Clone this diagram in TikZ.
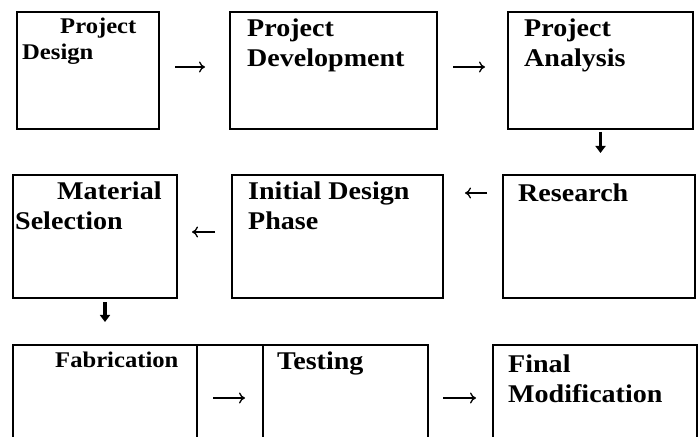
\documentclass[tikz,border=0pt]{standalone}
\usepackage{fontspec}
\setmainfont{Liberation Serif}[FakeStretch=1.1]
\usetikzlibrary{positioning,arrows.meta}

\tikzset{
  box/.style={draw, rectangle, line width=2bp, inner sep=0pt, outer sep=0pt, anchor=north west},
  lbl/.style={anchor=base west, inner sep=0pt, align=left, font=\fontsize{25.5bp}{30bp}\selectfont\bfseries},
  lblsmall/.style={lbl, font=\fontsize{22.4bp}{26bp}\selectfont\bfseries},
  harrow/.style={-{Computer Modern Rightarrow[length=6bp,width=11bp]}, line width=1.3bp},
  varrow/.style={-{Triangle[length=7bp,width=10bp]}, line width=3.5bp},
}

\begin{document}
\begin{tikzpicture}[x=1bp, y=-1bp]
\useasboundingbox (0,0) rectangle (700,437);
\clip (0,0) rectangle (700,437);
% first row
\node[box, minimum width=142bp, minimum height=117bp] (design) at (17,12) {};
\node[box, minimum width=207bp, minimum height=117bp, right=71bp of design] (develop) {};
\node[box, minimum width=185bp, minimum height=117bp, right=71bp of develop] (analysis) {};
% second row
\node[box, minimum width=164bp, minimum height=123bp] (material) at (13,175) {};
\node[box, minimum width=211bp, minimum height=123bp, right=55bp of material] (initial) {};
\node[box, minimum width=192bp, minimum height=123bp, right=60bp of initial] (research) {};
% third row
\node[box, minimum width=184bp, minimum height=115bp] (fab) at (13,345) {};
\node[box, minimum width=66bp, minimum height=115bp, right=0bp of fab] (cell) {};
\node[box, minimum width=165bp, minimum height=115bp, right=0bp of cell] (testing) {};
\node[box, minimum width=204bp, minimum height=115bp, right=65bp of testing] (final) {};

% labels (base = last line)
\node[lblsmall] (designT) at ([shift={(5,48)}]design.north west) {\hspace*{38bp}Project\\Design};
\node[lbl] (developT) at ([shift={(17,55)}]develop.north west) {Project\\Development};
\node[lbl] (analysisT) at ([shift={(16,55)}]analysis.north west) {Project\\Analysis};
\node[lbl] (materialT) at ([shift={(2,55)}]material.north west) {\hspace*{42bp}Material\\Selection};
\node[lbl] (initialT) at ([shift={(16,55)}]initial.north west) {Initial Design\\Phase};
\node[lbl] (researchT) at ([shift={(15,27)}]research.north west) {Research};
\node[lblsmall] (fabT) at ([shift={(42,22)}]fab.north west) {Fabrication};
\node[lbl] (testingT) at ([shift={(14,24)}]testing.north west) {Testing};
\node[lbl] (finalT) at ([shift={(15,57)}]final.north west) {Final\\Modification};

% arrows
\draw[harrow, shorten <=16bp, shorten >=25bp] ([yshift=3.5bp]design.east) -- ([yshift=3.5bp]develop.west);
\draw[harrow, shorten <=16bp, shorten >=23bp] ([yshift=3.5bp]develop.east) -- ([yshift=3.5bp]analysis.west);
\draw[varrow, shorten <=3bp, shorten >=22bp] (analysis.south) -- (analysis.south |- research.north);
\draw[harrow, shorten <=16bp, shorten >=22bp] ([yshift=43.5bp]research.west) -- ([yshift=43.5bp]initial.east);
\draw[harrow, shorten <=17bp, shorten >=15bp] ([yshift=4.5bp]initial.west) -- ([yshift=4.5bp]material.east);
\draw[varrow, shorten <=4bp, shorten >=23bp] (material.south -| fab.north) -- (fab.north);
\draw[harrow, shorten <=16bp, shorten >=18bp] ([yshift=4.5bp]fab.east) -- ([yshift=4.5bp]testing.west);
\draw[harrow, shorten <=15bp, shorten >=17bp] ([yshift=4.5bp]testing.east) -- ([yshift=4.5bp]final.west);
\end{tikzpicture}
\end{document}
